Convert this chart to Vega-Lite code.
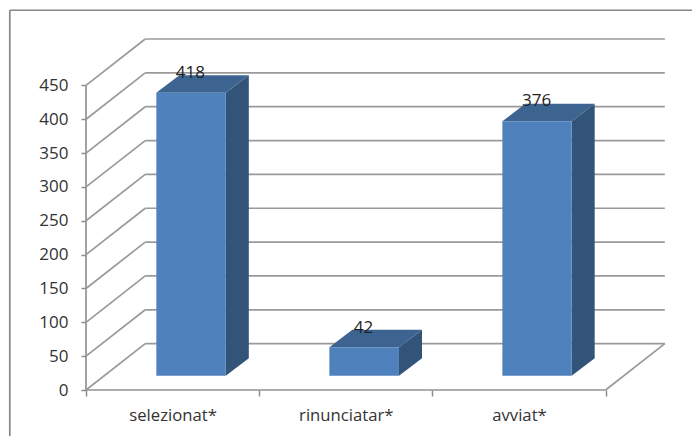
{
"$schema":"https://vega.github.io/schema/vega-lite/v6.json",
"width":579,"height":352,
"autosize":{"type":"none"},
"padding":{"left":86,"top":38,"right":27,"bottom":46},
"background":"white",
"config":{"view":{"stroke":null},"font":"Open Sans","axis":{"labelOverlap":false,"labelFlush":false,"labelBound":false}},
"datasets":{
"lines":[
{"part":"frame","x1":-0.44,"y1":-68,"x2":-0.44,"y2":561},
{"part":"frame","x1":-0.44,"y1":561,"x2":3.5,"y2":561},
{"part":"axis","x1":0,"y1":0,"x2":0,"y2":450},
{"part":"axis","x1":0,"y1":0,"x2":3,"y2":0},
{"part":"grid","x1":3,"y1":0,"x2":3.342,"y2":68.5},
{"part":"grid","x1":0,"y1":0,"x2":0.342,"y2":68.5},
{"part":"grid","x1":0,"y1":50,"x2":0.342,"y2":118.5},
{"part":"grid","x1":0,"y1":100,"x2":0.342,"y2":168.5},
{"part":"grid","x1":0,"y1":150,"x2":0.342,"y2":218.5},
{"part":"grid","x1":0,"y1":200,"x2":0.342,"y2":268.5},
{"part":"grid","x1":0,"y1":250,"x2":0.342,"y2":318.5},
{"part":"grid","x1":0,"y1":300,"x2":0.342,"y2":368.5},
{"part":"grid","x1":0,"y1":350,"x2":0.342,"y2":418.5},
{"part":"grid","x1":0,"y1":400,"x2":0.342,"y2":468.5},
{"part":"grid","x1":0,"y1":450,"x2":0.342,"y2":518.5},
{"part":"grid","x1":0.342,"y1":68.5,"x2":3.342,"y2":68.5},
{"part":"grid","x1":0.342,"y1":118.5,"x2":3.342,"y2":118.5},
{"part":"grid","x1":0.342,"y1":168.5,"x2":3.342,"y2":168.5},
{"part":"grid","x1":0.342,"y1":218.5,"x2":3.342,"y2":218.5},
{"part":"grid","x1":0.342,"y1":268.5,"x2":3.342,"y2":268.5},
{"part":"grid","x1":0.342,"y1":318.5,"x2":3.342,"y2":318.5},
{"part":"grid","x1":0.342,"y1":368.5,"x2":3.342,"y2":368.5},
{"part":"grid","x1":0.342,"y1":418.5,"x2":3.342,"y2":418.5},
{"part":"grid","x1":0.342,"y1":468.5,"x2":3.342,"y2":468.5},
{"part":"grid","x1":0.342,"y1":518.5,"x2":3.342,"y2":518.5}
],
"bars":[
{"category":"selezionat*","value":418,"start":0.406,"end":0.807,"center":0.602},
{"category":"rinunciatar*","value":42,"start":1.405,"end":1.807,"center":1.602},
{"category":"avviat*","value":376,"start":2.404,"end":2.804,"center":2.602}
],
"side":[
{"category":"selezionat*","x":0.807,"low":21,"high":439},
{"category":"selezionat*","x":0.94,"low":47,"high":465},
{"category":"rinunciatar*","x":1.807,"low":21,"high":63},
{"category":"rinunciatar*","x":1.94,"low":47,"high":89},
{"category":"avviat*","x":2.804,"low":21,"high":397},
{"category":"avviat*","x":2.937,"low":47,"high":423}
],
"top":[
{"category":"selezionat*","level":439,"left":0.406,"right":0.807},
{"category":"selezionat*","level":465,"left":0.539,"right":0.94},
{"category":"rinunciatar*","level":63,"left":1.405,"right":1.807},
{"category":"rinunciatar*","level":89,"left":1.538,"right":1.94},
{"category":"avviat*","level":397,"left":2.404,"right":2.804},
{"category":"avviat*","level":423,"left":2.537,"right":2.937}
]
},
"layer":[
{
"data":{"name":"lines"},
"mark":{"type":"rule","clip":false,"strokeWidth":1.7},
"encoding":{
"x":{"field":"x1","type":"quantitative","title":null,"scale":{"domain":[0,3.343],"nice":false,"zero":false},
"axis":{"values":[0,1,2,3],"grid":false,"domain":false,"tickSize":6,"tickColor":"#8c8c8c","tickWidth":1.5,"labelExpr":"datum.value==0?'selezionat*':datum.value==1?'rinunciatar*':datum.value==2?'avviat*':''","labelOffset":86.6,"labelAlign":"center","labelPadding":11,"labelFontSize":16.7,"labelColor":"#333333","title":null}},
"x2":{"field":"x2"},
"y":{"field":"y1","type":"quantitative","title":null,"scale":{"domain":[0,520],"nice":false,"zero":false},
"axis":{"values":[0,50,100,150,200,250,300,350,400,450],"grid":false,"domain":false,"tickSize":5,"tickColor":"#8c8c8c","tickWidth":1.5,"labelPadding":13,"labelFontSize":17,"labelColor":"#333333","title":null}},
"y2":{"field":"y2"},
"color":{"field":"part","type":"nominal","legend":null,"scale":{"domain":["frame","axis","grid"],"range":["#868686","#929292","#9a9a9a"]}}
}
},
{
"data":{"name":"side"},
"mark":{"type":"area","orient":"vertical","fill":"#325479","clip":false},
"encoding":{
"detail":{"field":"category"},
"x":{"field":"x","type":"quantitative","title":null,"scale":{"domain":[0,3.343],"nice":false,"zero":false},"axis":{"values":[0,1,2,3]}},
"y":{"field":"high","type":"quantitative","stack":null,"title":null,"scale":{"domain":[0,520],"nice":false,"zero":false},"axis":{"values":[0,50,100,150,200,250,300,350,400,450]}},
"y2":{"field":"low"}
}
},
{
"data":{"name":"top"},
"mark":{"type":"area","orient":"horizontal","fill":"#3d6491","clip":false},
"encoding":{
"detail":{"field":"category"},
"y":{"field":"level","type":"quantitative","title":null,"scale":{"domain":[0,520],"nice":false,"zero":false},"axis":{"values":[0,50,100,150,200,250,300,350,400,450]}},
"x":{"field":"left","type":"quantitative","stack":null,"title":null,"scale":{"domain":[0,3.343],"nice":false,"zero":false},"axis":{"values":[0,1,2,3]}},
"x2":{"field":"right"}
}
},
{
"data":{"name":"bars"},
"mark":{"type":"rect","fill":"#4f81bd","yOffset":-14.2,"y2Offset":-14.2,"clip":false},
"encoding":{
"x":{"field":"start","type":"quantitative","title":null,"scale":{"domain":[0,3.343],"nice":false,"zero":false},"axis":{"values":[0,1,2,3]}},
"x2":{"field":"end"},
"y":{"field":"value","type":"quantitative","title":null,"scale":{"domain":[0,520],"nice":false,"zero":false},"axis":{"values":[0,50,100,150,200,250,300,350,400,450]}},
"y2":{"datum":0}
}
},
{
"data":{"name":"bars"},
"mark":{"type":"text","yOffset":-34,"fontSize":17,"color":"#222222","align":"center","baseline":"middle"},
"encoding":{
"x":{"field":"center","type":"quantitative","title":null,"scale":{"domain":[0,3.343],"nice":false,"zero":false},"axis":{"values":[0,1,2,3]}},
"y":{"field":"value","type":"quantitative","title":null,"scale":{"domain":[0,520],"nice":false,"zero":false},"axis":{"values":[0,50,100,150,200,250,300,350,400,450]}},
"text":{"field":"value","type":"quantitative"}
}
}
]
}
